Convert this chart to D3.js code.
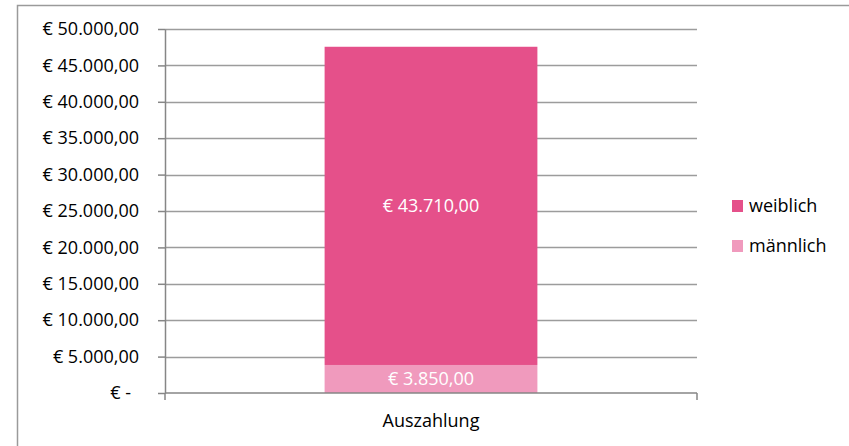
<!DOCTYPE html>
<html lang="de">
<head>
<meta charset="UTF-8" />
<title>Auszahlung</title>
<script src="https://d3js.org/d3.v7.min.js"></script>
<style>
  body { margin: 0; background: #fff; }
  svg text { font-family: "Open Sans", "Liberation Sans", sans-serif; }
</style>
</head>
<body>
<svg id="chart" width="849" height="446"></svg>
<script>
const categories = ["Auszahlung"];
const seriesNames = ["männlich", "weiblich"];
const maennlich = [3850];
const weiblich = [43710];
const yTicks = [0, 5000, 10000, 15000, 20000, 25000, 30000, 35000, 40000, 45000, 50000];

const colors = { "männlich": "#f09abd", "weiblich": "#e5508a" };

const fmt = d => d === 0 ? "€ -" :
  "€ " + d.toLocaleString("de-DE", { minimumFractionDigits: 2, maximumFractionDigits: 2 });

const svg = d3.select("#chart");
const margin = { left: 165, top: 29, right: 152, bottom: 53 };
const width = 849 - margin.left - margin.right;
const height = 446 - margin.top - margin.bottom;

// outer frame (right and bottom edges fall outside the picture)
svg.append("path")
  .attr("d", "M17.5,446V5.5H849")
  .attr("fill", "none").attr("stroke", "#9a9a9a").attr("stroke-width", 1.5);

const g = svg.append("g").attr("transform", `translate(${margin.left},${margin.top})`);

const x = d3.scaleBand().domain(categories).range([0, width]).paddingInner(0.6).paddingOuter(0.3);
const y = d3.scaleLinear().domain([0, 50000]).range([height, 0]);

// gridlines
g.append("g")
  .selectAll("line")
  .data(yTicks.filter(d => d > 0))
  .join("line")
  .attr("x1", 0).attr("x2", width)
  .attr("y1", d => Math.round(y(d)) + 0.5).attr("y2", d => Math.round(y(d)) + 0.5)
  .attr("stroke", "#9c9c9c").attr("stroke-width", 1.5);

// stacked bars
const rows = categories.map((c, i) => ({ cat: c, "männlich": maennlich[i], "weiblich": weiblich[i] }));
const stacked = d3.stack().keys(seriesNames)(rows);

const layers = g.selectAll(".layer")
  .data(stacked)
  .join("g")
  .attr("class", "layer")
  .attr("fill", d => colors[d.key]);

layers.selectAll("rect")
  .data(d => d)
  .join("rect")
  .attr("x", d => x(d.data.cat))
  .attr("width", x.bandwidth())
  .attr("y", d => y(d[1]))
  .attr("height", d => y(d[0]) - y(d[1]));

layers.selectAll("text")
  .data(d => d.map(v => ({ v, key: d.key })))
  .join("text")
  .attr("x", d => x(d.v.data.cat) + x.bandwidth() / 2)
  .attr("y", d => (y(d.v[0]) + y(d.v[1])) / 2)
  .attr("dy", "0.35em")
  .attr("text-anchor", "middle")
  .attr("fill", "#fff")
  .style("font-size", "18px")
  .text(d => fmt(d.v.data[d.key]));

// y axis
const yAxis = g.append("g")
  .call(d3.axisLeft(y).tickValues(yTicks).tickFormat(fmt).tickSizeInner(7).tickSizeOuter(0).tickPadding(19));
yAxis.selectAll("line, path").attr("stroke", "#868686").attr("stroke-width", 1.5);
yAxis.selectAll("text").attr("fill", "#000").style("font-size", "18px");
yAxis.selectAll(".tick").filter(d => d === 0).select("text").attr("dx", "-8");

// x axis
const xAxis = g.append("g")
  .attr("transform", `translate(0,${height})`)
  .call(d3.axisBottom(x).tickSize(0).tickPadding(21));
xAxis.select("path").attr("d", `M0,0H${width}`).attr("stroke", "#868686").attr("stroke-width", 1.5);
xAxis.selectAll("text").attr("fill", "#000").style("font-size", "18px");
xAxis.append("g").selectAll("line")
  .data([0, width])
  .join("line")
  .attr("x1", d => d).attr("x2", d => d)
  .attr("y1", 0).attr("y2", 7)
  .attr("stroke", "#868686").attr("stroke-width", 1.5);

// legend
const legend = svg.append("g").attr("transform", "translate(732,200)");
const legendItems = ["weiblich", "männlich"];
const li = legend.selectAll("g")
  .data(legendItems)
  .join("g")
  .attr("transform", (d, i) => `translate(0,${i * 40})`);
li.append("rect").attr("width", 11).attr("height", 12).attr("fill", d => colors[d]);
li.append("text").attr("x", 17).attr("y", 6).attr("dy", "0.35em")
  .style("font-size", "18px").attr("fill", "#000").text(d => d);
</script>
</body>
</html>
